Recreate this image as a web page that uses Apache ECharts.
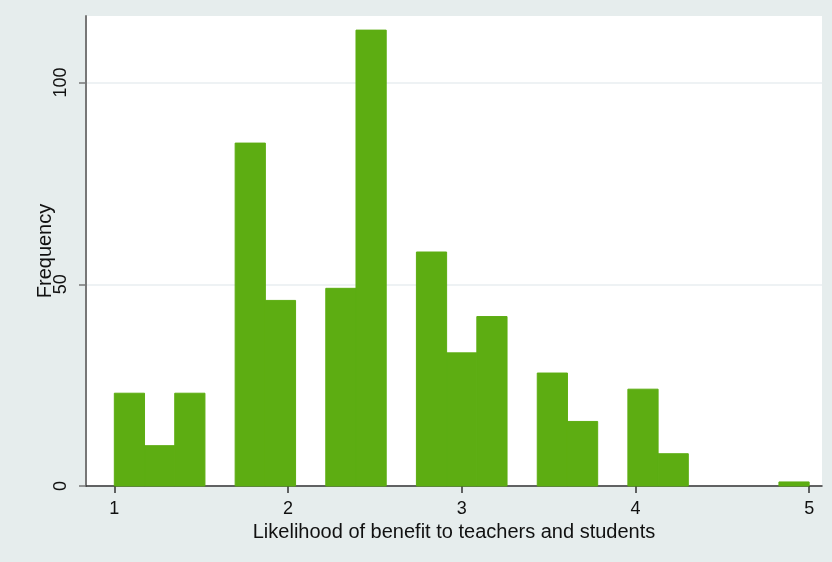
<!DOCTYPE html>
<html>
<head>
<meta charset="utf-8">
<script src="https://cdn.jsdelivr.net/npm/echarts@6/dist/echarts.min.js"></script>
<style>
html,body{margin:0;padding:0;background:#e6eded;}
#chart{width:832px;height:562px;}
</style>
</head>
<body>
<div id="chart"></div>
<script>
// Histogram definition: 23 bins starting at 1 with width 4/23
const binStart = 1;
const binWidth = 4 / 23;
const counts = [23, 10, 23, 0, 85, 46, 0, 49, 113, 0, 58, 33, 42, 0, 28, 16, 0, 24, 8, 0, 0, 0, 1];
const xTicks = [1, 2, 3, 4, 5];
const yTicks = [0, 50, 100];
const xTitle = 'Likelihood of benefit to teachers and students';
const yTitle = 'Frequency';

const data = counts.map((c, i) => [binStart + i * binWidth, binStart + (i + 1) * binWidth, c]);

const chart = echarts.init(document.getElementById('chart'));
const font = '"Liberation Sans", Arial, Helvetica, sans-serif';
chart.setOption({
  animation: false,
  backgroundColor: '#e6eded',
  grid: {left: 86, right: 10, top: 16, bottom: 76, show: true, backgroundColor: '#ffffff', borderWidth: 0},
  xAxis: {
    type: 'value', min: 0.837, max: 5.074,
    name: xTitle, nameLocation: 'middle', nameGap: 36, nameMoveOverlap: false,
    nameTextStyle: {fontFamily: font, fontSize: 20, color: '#111'},
    axisLine: {show: true, onZero: false, lineStyle: {color: '#333', width: 1.5}},
    axisTick: {show: true, length: 7, customValues: xTicks, lineStyle: {color: '#333', width: 1.5}},
    axisLabel: {customValues: xTicks, fontFamily: font, fontSize: 18, color: '#111', margin: 14},
    splitLine: {show: false}
  },
  yAxis: {
    type: 'value', min: 0, max: 116.5,
    name: yTitle, nameLocation: 'middle', nameGap: 31, nameRotate: 90, nameMoveOverlap: false,
    nameTextStyle: {fontFamily: font, fontSize: 20, color: '#111'},
    axisLine: {show: true, lineStyle: {color: '#777', width: 2}},
    axisTick: {show: true, length: 7, customValues: yTicks, lineStyle: {color: '#777', width: 1.5}},
    axisLabel: {customValues: yTicks, rotate: 90, fontFamily: font, fontSize: 18, color: '#111', margin: 16},
    splitLine: {show: true, lineStyle: {color: '#e8eef0', width: 1.5}}
  },
  series: [{
    type: 'custom',
    data: data,
    encode: {x: [0, 1], y: 2},
    renderItem: function (params, api) {
      const y = api.value(2);
      if (!y) return null;
      const p0 = api.coord([api.value(0), y]);
      const p1 = api.coord([api.value(1), 0]);
      return {
        type: 'rect',
        shape: {x: p0[0], y: p0[1], width: p1[0] - p0[0], height: p1[1] - p0[1]},
        style: {fill: '#5dad12', stroke: '#5dad12', lineWidth: 1}
      };
    }
  }]
});
</script>
</body>
</html>
